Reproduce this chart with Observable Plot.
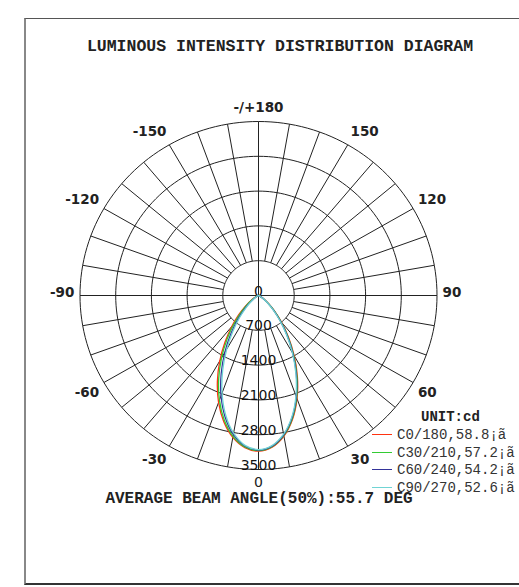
<!DOCTYPE html>
<html>
<head>
<meta charset="utf-8">
<script src="https://cdn.jsdelivr.net/npm/d3@7"></script>
<script src="https://cdn.jsdelivr.net/npm/@observablehq/plot@0.6"></script>
<style>
  body { margin: 0; background: #fff; }
  #wrap { position: relative; width: 519px; height: 587px; overflow: hidden; background: #fff; }
  #frame { position: absolute; left: 24px; top: 18px; width: 620px; height: 564px;
           border-left: 2px solid #888; border-top: 1px solid #555; border-bottom: 2px solid #333; }
  #chart { position: absolute; left: 0; top: 0; }
  .mono { position: absolute; font-family: "Liberation Mono", "Courier New", monospace; white-space: nowrap; color: #222; }
  #title { left: 0; width: 560px; text-align: center; top: 39px; font-size: 16.5px; line-height: 16.5px; font-weight: bold; }
  #beam { left: 0; width: 518px; text-align: center; top: 491px; font-size: 16px; line-height: 16px; font-weight: bold; }
  #unit { left: 421px; top: 410px; font-size: 14px; line-height: 14px; font-weight: bold; }
  .leg { position: absolute; left: 372px; height: 14px; }
  .leg .sw { position: absolute; left: 0; top: 6px; width: 20px; height: 0; border-top: 1.3px solid; }
  .leg .lt { position: absolute; left: 25px; top: 0; font-family: "Liberation Mono", "Courier New", monospace;
             font-size: 14px; line-height: 14px; color: #333; white-space: nowrap; }
</style>
</head>
<body>
<div id="wrap">
  <div id="frame"></div>
  <div id="chart"></div>
  <div id="title" class="mono"></div>
  <div id="unit" class="mono"></div>
  <div id="legend"></div>
  <div id="beam" class="mono"></div>
</div>
<script>
// ---------------- data ----------------
const titleText = "LUMINOUS INTENSITY DISTRIBUTION DIAGRAM";
const beamText = "AVERAGE BEAM ANGLE(50%):55.7 DEG";
const unitText = "UNIT:cd";

// gamma angles (deg), 0 = nadir; negative = left half-plane
const gammas = [-90,-85,-80,-75,-70,-65,-60,-55,-50,-45,-40,-35,-30,-25,-20,-15,-10,-5,
                0,5,10,15,20,25,30,35,40,45,50,55,60,65,70,75,80,85,90];

const seriesNames = ["C0/180,58.8¡ã", "C30/210,57.2¡ã", "C60/240,54.2¡ã", "C90/270,52.6¡ã"];
const seriesColors = ["#ff3311", "#33cc33", "#333399", "#70d4d4"];

const c0_180 = [0,0,1,3,14,41,96,191,339,547,819,1147,1518,1908,2289,2629,2898,3071,
                3130,3064,2873,2578,2209,1804,1399,1024,704,449,264,139,64,25,8,2,0,0,0];
const c30_210 = [0,0,0,2,10,32,78,161,296,492,754,1077,1450,1847,2240,2594,2876,3057,
                 3120,3053,2859,2561,2189,1781,1374,1000,683,433,251,131,60,23,7,1,0,0,0];
const c60_240 = [0,0,0,1,5,18,50,113,223,394,635,947,1320,1730,2147,2529,2839,3040,
                 3110,3042,2846,2544,2168,1758,1350,977,663,417,240,124,56,21,6,1,0,0,0];
const c90_270 = [0,0,0,0,3,13,38,91,188,344,572,875,1245,1662,2090,2488,2813,3026,
                 3100,3031,2832,2527,2148,1735,1327,955,643,401,228,117,52,19,6,1,0,0,0];
const seriesValues = [c0_180, c30_210, c60_240, c90_270];

const ringValues = [700, 1400, 2100, 2800, 3500];
const ringLabels = [0, 700, 1400, 2100, 2800, 3500];
const angleTicks = [180, 150, 120, 90, 60, 30, 0, -30, -60, -90, -120, -150];
const angleTickLabels = ["-/+180", "150", "120", "90", "60", "30", "0", "-30", "-60", "-90", "-120", "-150"];
const spokeAngles = [-170,-160,-150,-140,-130,-120,-110,-100,-90,-80,-70,-60,-50,-40,-30,-20,-10,
                     0,10,20,30,40,50,60,70,80,90,100,110,120,130,140,150,160,170,180];

// ---------------- geometry helpers ----------------
const MAX = 3500;
const rad = d => d * Math.PI / 180;
const px = (r, a) => r * Math.sin(rad(a));
const py = (r, a) => r * Math.cos(rad(a));

// rings
const ringPts = [];
for (const r of ringValues) for (let a = 0; a <= 360; a += 2) ringPts.push({r, x: px(r, a), y: py(r, a)});

// spokes
const axisAngles = new Set([0, 90, -90, 180]);
const spokes = spokeAngles.map(a => {
  const r0 = axisAngles.has(a) ? 0 : ringValues[0];
  return {x1: px(r0, a), y1: py(r0, a), x2: px(MAX, a), y2: py(MAX, a)};
});

// curves
const curvePts = [];
seriesNames.forEach((name, i) => {
  gammas.forEach((g, j) => {
    const I = seriesValues[i][j];
    curvePts.push({name, x: px(I, g), y: py(I, g)});
  });
});

// angle tick labels
const LRX = 3610, LRY = 3700;
const tickData = angleTicks.map((a, i) => ({a, label: angleTickLabels[i], x: LRX * Math.sin(rad(a)), y: LRY * Math.cos(rad(a))}));
function tickMark(filter, textAnchor, lineAnchor, dy, fontWeight = "bold", fontSize = 13.5) {
  return Plot.text(tickData.filter(filter), {
    x: "x", y: "y", text: "label", textAnchor, lineAnchor, dy,
    fontFamily: "DejaVu Sans", fontWeight, fontSize, fill: "#222"
  });
}
const isTop = d => Math.abs(d.a) > 90 && Math.abs(d.a) < 180;
const isBot = d => Math.abs(d.a) < 90 && d.a !== 0;

const chart = Plot.plot({
  width: 519, height: 587, margin: 0,
  style: {background: "transparent", overflow: "visible"},
  x: {domain: [-MAX, MAX], range: [258 - 178.5, 258 + 178.5], axis: null},
  y: {domain: [-MAX, MAX], range: [295 - 174, 295 + 174], axis: null},
  color: {domain: seriesNames, range: seriesColors},
  marks: [
    Plot.line(ringPts, {x: "x", y: "y", z: "r", stroke: "#222", strokeWidth: 1}),
    Plot.link(spokes, {x1: "x1", y1: "y1", x2: "x2", y2: "y2", stroke: "#222", strokeWidth: 1}),
    Plot.text(ringLabels, {x: 0, y: d => d, text: d => String(d), lineAnchor: "bottom",
      fontFamily: "DejaVu Sans", fontSize: 14, fill: "#111"}),
    tickMark(d => d.a === 180, "middle", "bottom", 0),
    tickMark(d => d.a === 0, "middle", "top", -2, "normal", 14),
    tickMark(d => isTop(d) && d.a > 0, "start", "bottom", 0),
    tickMark(d => isTop(d) && d.a < 0, "end", "bottom", 0),
    tickMark(d => isBot(d) && d.a > 0, "start", "top", 0),
    tickMark(d => isBot(d) && d.a < 0, "end", "top", 0),
    tickMark(d => d.a === 90, "start", "middle", -3),
    tickMark(d => d.a === -90, "end", "middle", -3),
    Plot.line(curvePts, {x: "x", y: "y", z: "name", stroke: "name", strokeWidth: 1.3, curve: "catmull-rom"})
  ]
});
document.getElementById("chart").appendChild(chart);

document.getElementById("title").textContent = titleText;
document.getElementById("beam").textContent = beamText;
document.getElementById("unit").textContent = unitText;

const legendTops = [428, 446, 463, 481];
const legend = document.getElementById("legend");
seriesNames.forEach((name, i) => {
  const row = document.createElement("div");
  row.className = "leg";
  row.style.top = legendTops[i] + "px";
  const sw = document.createElement("div");
  sw.className = "sw";
  sw.style.borderTopColor = seriesColors[i];
  const lt = document.createElement("div");
  lt.className = "lt";
  lt.textContent = name;
  row.appendChild(sw); row.appendChild(lt);
  legend.appendChild(row);
});
</script>
</body>
</html>
